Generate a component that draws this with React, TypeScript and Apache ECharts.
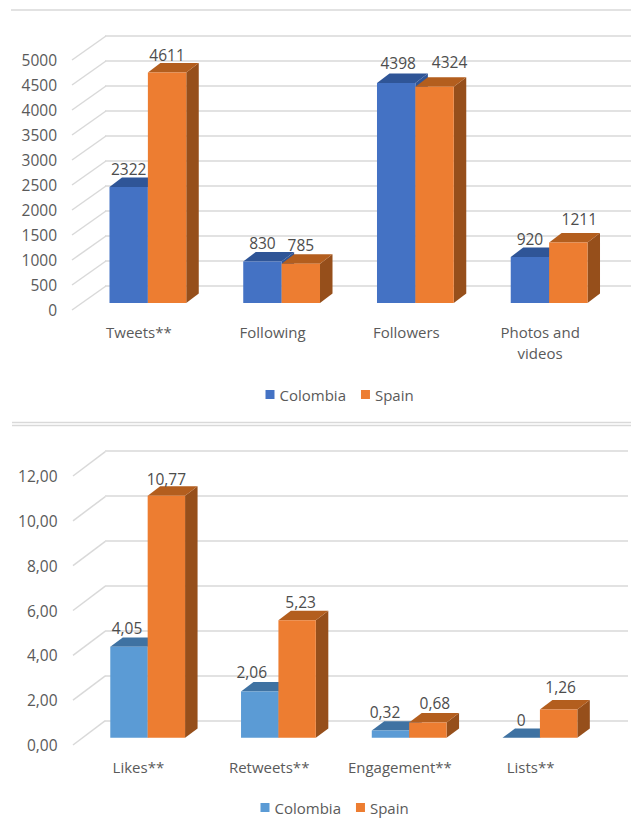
import React, { useEffect, useRef } from "react";
import * as echarts from "echarts";

// Account activity: totals per profile
const activityCategories = ["Tweets**", "Following", "Followers", "Photos and\nvideos"];
const activityColombia = [2322, 830, 4398, 920];
const activitySpain = [4611, 785, 4324, 1211];
const activityTicks = [0, 500, 1000, 1500, 2000, 2500, 3000, 3500, 4000, 4500, 5000];

// Interaction: averages per tweet
const interactionCategories = ["Likes**", "Retweets**", "Engagement**", "Lists**"];
const interactionColombia = [4.05, 2.06, 0.32, 0];
const interactionSpain = [10.77, 5.23, 0.68, 1.26];
const interactionTicks = [0, 2, 4, 6, 8, 10, 12];

const FONT = '"Open Sans", sans-serif';
const FONT_SIZE = 15;
const NUMBER_SIZE = 15.5;
const TEXT = "#5a5a5a";
const GRID_LINE = "#d9d9d9";
const ORANGE = { front: "#ed7d31", top: "#b35e1e", side: "#964f1b" };

type Faces = { front: string; top: string; side: string };

type Panel = {
  categories: string[];
  colombia: number[];
  spain: number[];
  ticks: number[];
  blue: Faces;
  axisLabel: (v: number) => string;
  valueLabel: (v: number) => string;
  wall: { left: number; right: number; top: number; bottom: number };
  front: { left: number; width: number; top: number; bottom: number };
  bars: { left: number; width: number; top: number; bottom: number };
  floor: { dx: number; dy: number };
  barDepth: { dx: number; dy: number };
  barShare: number;
  categoryMargin: number;
  valueMargin: number;
  legend: { left: number; top: number };
  colombiaNudge: number[][];
  spainNudge: number[][];
};

const comma = (v: number) => v.toFixed(2).replace(".", ",");

const panels: Panel[] = [
  {
    categories: activityCategories,
    colombia: activityColombia,
    spain: activitySpain,
    ticks: activityTicks,
    blue: { front: "#4472c4", top: "#2f5597", side: "#2f5597" },
    axisLabel: (v) => String(v),
    valueLabel: (v) => String(v),
    wall: { left: 105, right: 631, top: 36, bottom: 286 },
    front: { left: 72, width: 535, top: 60, bottom: 310 },
    bars: { left: 81, width: 535, top: 53, bottom: 303 },
    floor: { dx: 34, dy: 24 },
    barDepth: { dx: 12.5, dy: 9.5 },
    barShare: 0.287,
    categoryMargin: 11,
    valueMargin: 15,
    legend: { left: 265.5, top: 387 },
    colombiaNudge: [[0, -18], [0, -19], [2, -20], [0, -18]],
    spainNudge: [[0, -17], [0, -19], [15, -25], [11, -23]],
  },
  {
    categories: interactionCategories,
    colombia: interactionColombia,
    spain: interactionSpain,
    ticks: interactionTicks,
    blue: { front: "#5b9bd5", top: "#3f72a2", side: "#3f72a2" },
    axisLabel: comma,
    valueLabel: (v) => (v === 0 ? "0" : comma(v)),
    wall: { left: 105, right: 628, top: 451, bottom: 720.7 },
    front: { left: 73, width: 523, top: 476, bottom: 745 },
    bars: { left: 82.3, width: 523, top: 468, bottom: 737.7 },
    floor: { dx: 32.3, dy: 24.3 },
    barDepth: { dx: 12.5, dy: 9.3 },
    barShare: 0.286,
    categoryMargin: 11,
    valueMargin: 15.5,
    legend: { left: 260.5, top: 800 },
    colombiaNudge: [[-2, -19], [-8, -19], [-5.5, -19], [0, -18]],
    spainNudge: [[0, -17], [3.5, -18], [7, -19], [2, -22]],
  },
];

const PAGE = { width: 631, height: 827 };

const gridBox = (b: { left: number; top: number; bottom: number }, width: number) => ({
  left: b.left,
  top: b.top,
  width,
  height: b.bottom - b.top,
  containLabel: false,
});

// One clustered column in oblique projection: side and top faces are pushed back by a fixed depth.
function columnSeries(
  p: Panel,
  name: string,
  values: number[],
  faces: Faces,
  slot: 0 | 1,
  nudge: number[][],
  axisIndex: number,
) {
  return {
    type: "custom",
    name,
    xAxisIndex: axisIndex,
    yAxisIndex: axisIndex,
    clip: false,
    silent: true,
    itemStyle: { color: faces.front },
    data: values.map((v, i) => [i, v]),
    renderItem: (_params: any, api: any) => {
      const index = api.value(0);
      const value = api.value(1);
      const [centre, top] = api.coord([index, value]);
      const [, base] = api.coord([index, 0]);
      const w = api.size([1, 0])[0] * p.barShare;
      const x0 = centre + (slot === 0 ? -w : 0);
      const x1 = x0 + w;
      const { dx, dy } = p.barDepth;
      const [nx, ny] = nudge[index];
      return {
        type: "group",
        children: [
          {
            type: "polygon",
            shape: { points: [[x1, top], [x1 + dx, top - dy], [x1 + dx, base - dy], [x1, base]] },
            style: { fill: faces.side },
          },
          {
            type: "polygon",
            shape: { points: [[x0, top], [x0 + dx, top - dy], [x1 + dx, top - dy], [x1, top]] },
            style: { fill: faces.top },
          },
          {
            type: "polygon",
            shape: { points: [[x0, top], [x1, top], [x1, base], [x0, base]] },
            style: { fill: faces.front },
          },
          {
            type: "text",
            z2: 50,
            style: {
              text: p.valueLabel(value),
              x: (x0 + x1) / 2 + nx,
              y: top + ny,
              align: "center",
              verticalAlign: "middle",
              fill: "#4d4d4d",
              font: `${NUMBER_SIZE}px ${FONT}`,
            },
          },
        ],
      };
    },
  };
}

function buildPanel(p: Panel, base: number) {
  const wallIdx = base;
  const frontIdx = base + 1;
  const barIdx = base + 2;
  const max = p.ticks[p.ticks.length - 1];
  const step = p.ticks[1] - p.ticks[0];
  const valueAxis = { type: "value", min: 0, max, interval: step };
  const categoryAxis = { type: "category", data: p.categories };

  const grid = [
    gridBox(p.wall, p.wall.right - p.wall.left),
    gridBox(p.front, p.front.width),
    gridBox(p.bars, p.bars.width),
  ];

  const xAxis = [
    { ...categoryAxis, gridIndex: wallIdx, show: false },
    {
      ...categoryAxis,
      gridIndex: frontIdx,
      axisLine: { show: false },
      axisTick: { show: false },
      axisLabel: {
        interval: 0,
        margin: p.categoryMargin,
        color: TEXT,
        fontFamily: FONT,
        fontSize: FONT_SIZE,
        lineHeight: 21,
        verticalAlign: "top",
      },
    },
    { ...categoryAxis, gridIndex: barIdx, show: false },
  ];

  const yAxis = [
    {
      ...valueAxis,
      gridIndex: wallIdx,
      axisLine: { show: false },
      axisTick: { show: false },
      axisLabel: { show: false },
      splitLine: { show: true, lineStyle: { color: GRID_LINE, width: 1.5 } },
    },
    {
      ...valueAxis,
      gridIndex: frontIdx,
      axisLine: { show: false },
      axisTick: { show: false },
      splitLine: { show: false },
      axisLabel: {
        margin: p.valueMargin,
        color: TEXT,
        fontFamily: FONT,
        fontSize: NUMBER_SIZE,
        formatter: p.axisLabel,
      },
    },
    { ...valueAxis, gridIndex: barIdx, show: false, splitLine: { show: false } },
  ];

  // Receding floor-to-wall strokes that join each value tick to its wall gridline.
  const sideLines = {
    type: "custom",
    xAxisIndex: frontIdx,
    yAxisIndex: frontIdx,
    clip: false,
    silent: true,
    data: p.ticks.map((t) => [0, t]),
    renderItem: (params: any, api: any) => {
      const y = api.coord([0, api.value(1)])[1];
      const x = params.coordSys.x;
      return {
        type: "line",
        shape: { x1: x, y1: y, x2: x + p.floor.dx, y2: y - p.floor.dy },
        style: { stroke: GRID_LINE, lineWidth: 1.5 },
      };
    },
  };

  const series = [
    sideLines,
    columnSeries(p, "Colombia", p.colombia, p.blue, 0, p.colombiaNudge, barIdx),
    columnSeries(p, "Spain", p.spain, ORANGE, 1, p.spainNudge, barIdx),
  ];

  const legend = {
    left: p.legend.left,
    top: p.legend.top,
    itemWidth: 9,
    itemHeight: 9,
    itemGap: 15,
    padding: 0,
    icon: "rect",
    selectedMode: false,
    textStyle: { color: TEXT, fontFamily: FONT, fontSize: FONT_SIZE },
    data: [
      { name: "Colombia", itemStyle: { color: p.blue.front } },
      { name: "Spain", itemStyle: { color: ORANGE.front } },
    ],
  };

  return { grid, xAxis, yAxis, series, legend };
}

// Hairlines framing the two panels.
const rule = (y: number, x1: number, x2: number) => ({
  type: "line",
  silent: true,
  shape: { x1, y1: y, x2, y2: y },
  style: { stroke: GRID_LINE, lineWidth: 1.5 },
});

export default function App() {
  const ref = useRef<HTMLDivElement>(null);

  useEffect(() => {
    if (!ref.current) return;
    const chart = echarts.init(ref.current, undefined, { renderer: "svg" });
    const built = panels.map((p, i) => buildPanel(p, i * 3));
    chart.setOption({
      animation: false,
      backgroundColor: "#ffffff",
      grid: built.flatMap((b) => b.grid),
      xAxis: built.flatMap((b) => b.xAxis),
      yAxis: built.flatMap((b) => b.yAxis),
      series: built.flatMap((b) => b.series),
      legend: built.map((b) => b.legend),
      graphic: [rule(10, 11, 631), rule(422.5, 12, 631), rule(425.5, 12, 631)],
    });
    return () => chart.dispose();
  }, []);

  return (
    <div
      ref={ref}
      style={{ position: "absolute", left: 0, top: 0, width: PAGE.width, height: PAGE.height }}
    />
  );
}
